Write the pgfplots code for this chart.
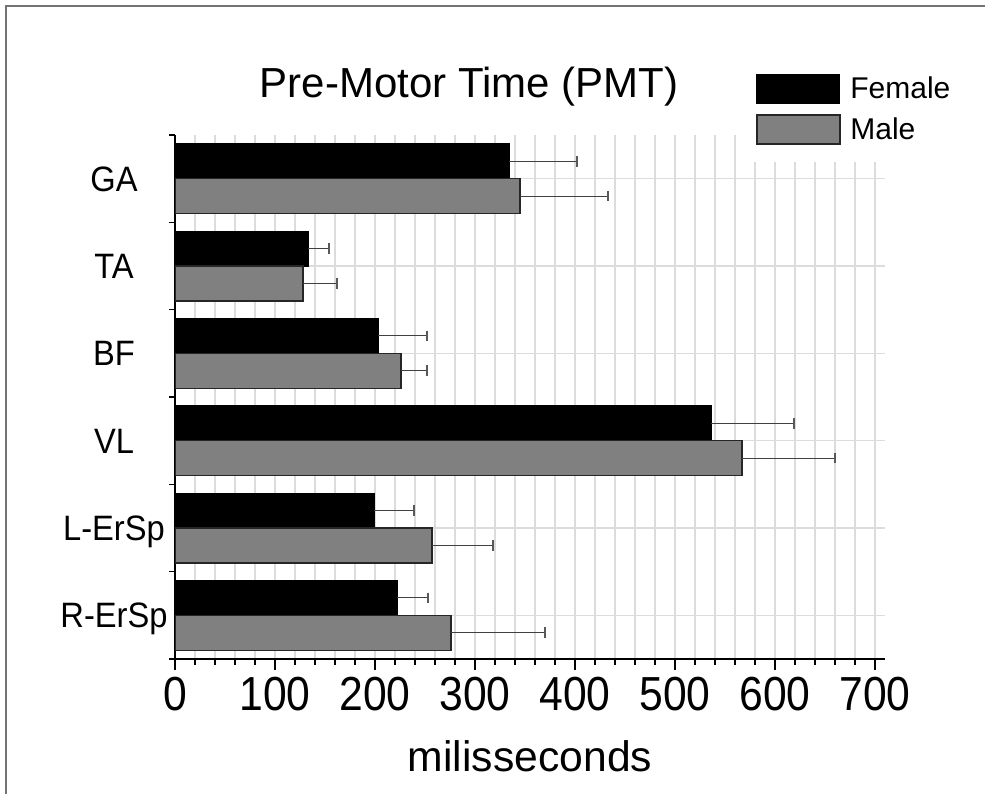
\documentclass[border=0pt]{standalone}
\usepackage{pgfplots}
\pgfplotsset{compat=1.18}
\usepackage{pgfplotstable}
\usepackage{fontspec}
\setmainfont{Liberation Sans}
\definecolor{malegray}{HTML}{808080}
\definecolor{gridgray}{HTML}{DCDCDC}
\pgfplotstableread{
y f fe m me
5 334 68 345 88
4 133 21 128 34
3 203 49 226 26
2 536 83 567 93
1 199 40 257 61
0 222 31 276 94
}\data
\newcommand{\yl}[1]{\scalebox{1}[1.08]{#1}}
\begin{document}
\begin{tikzpicture}
\useasboundingbox (0,0) rectangle (738.75pt,595.5pt);
\draw[black!55, line width=1.1pt] (4.5pt,0) -- (4.5pt,591pt) -- (738.75pt,591pt);
\begin{axis}[
  at={(131.25pt,101.25pt)}, anchor=south west,
  scale only axis, width=532.5pt, height=393pt,
  xmin=0, xmax=710, ymin=-0.5, ymax=5.5,
  axis x line*=bottom, axis y line*=left,
  axis line style={line width=1.5pt, black},
  xbar, bar width=0.4,
  xtick={0,100,...,700}, minor x tick num=4,
  ytick={0,1,2,3,4,5},
  yticklabels={\yl{R-ErSp},\yl{L-ErSp},\yl{VL},\yl{BF},\yl{TA},\yl{GA}},
  minor ytick={-0.5,0.5,...,5.5},
  every major y tick/.append style={draw=none},
  tick align=outside,
  major tick length=8.25pt, minor tick length=4.5pt,
  tick style={line width=1.1pt, black},
  xmajorgrids, xminorgrids, ymajorgrids,
  major grid style={draw=gridgray, line width=1pt},
  minor grid style={draw=gridgray, line width=1pt},
  /pgf/number format/assume math mode=true,
  xticklabel={\scalebox{1}[1.12]{\pgfmathprintnumber{\tick}}},
  xticklabel style={font=\fontsize{32}{36}\selectfont, anchor=center, text height=25.7pt, text depth=0pt, yshift=-17.5pt},
  yticklabel style={font=\fontsize{24.5}{28}\selectfont, anchor=center, text height=18.9pt, text depth=0pt, xshift=-37.5pt},
  xlabel={milisseconds},
  xlabel style={font=\fontsize{32}{36}\selectfont, at={(axis description cs:0.5,0)}, anchor=base, yshift=-84.5pt},
  title={Pre-Motor Time (PMT)},
  title style={font=\fontsize{31.5}{36}\selectfont, at={(axis description cs:0.414,1)}, anchor=base, yshift=22.2pt},
  legend style={at={(axis description cs:0.8032,1.1508)}, anchor=north west, draw=none, fill=white,
    inner xsep=8pt, inner ysep=13pt, font=\fontsize{22.5}{27}\selectfont,
    row sep=7.9pt},
  legend cell align=left,
  legend image code/.code={\draw[#1] (0pt,-10.875pt) rectangle (62.25pt,10.875pt); \path (67.5pt,0pt);},
  error bars/error bar style={line width=0.8pt, draw=black!75},
  error bars/error mark=|,
  error bars/error mark options={line width=1pt, draw=black!65, mark size=4pt},
]
\addplot[fill=black, draw=black, line width=0.8pt, bar shift=0.2,
  error bars/.cd, x dir=plus, x explicit]
  table[x=f, y=y, x error=fe] {\data};
\addlegendentry{Female}
\addplot[fill=malegray, draw=black!85, line width=1.1pt, bar shift=-0.2,
  error bars/.cd, x dir=plus, x explicit]
  table[x=m, y=y, x error=me] {\data};
\addlegendentry{Male}
\end{axis}
\end{tikzpicture}
\end{document}
